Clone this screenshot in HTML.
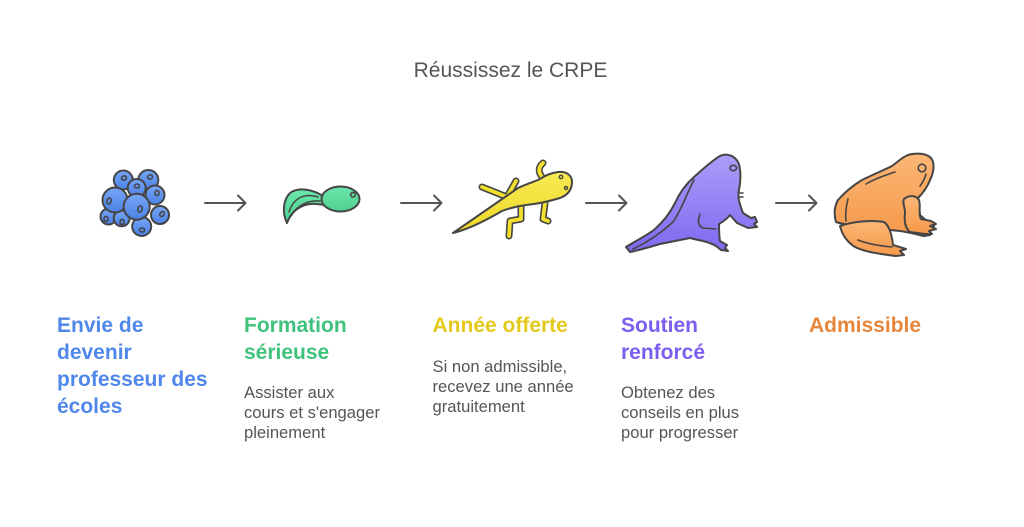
<!DOCTYPE html>
<html><head><meta charset="utf-8"><style>
html,body{margin:0;padding:0;background:#fff;}
svg{display:block;}
text{font-family:"Liberation Sans",Arial,sans-serif;}
.h{font-size:21px;font-weight:bold;}
.d{font-size:16.6px;fill:#555;}
</style></head><body>
<svg width="1024" height="527" viewBox="0 0 1024 527" xmlns="http://www.w3.org/2000/svg">
<defs>
<linearGradient id="gb" x1="0" y1="0" x2="0" y2="1"><stop offset="0" stop-color="#78a6f6"/><stop offset="1" stop-color="#4b82e8"/></linearGradient>
<linearGradient id="gg" x1="0" y1="0" x2="0" y2="1"><stop offset="0" stop-color="#6ae6aa"/><stop offset="1" stop-color="#4fd190"/></linearGradient>
<linearGradient id="gy" x1="0" y1="0" x2="0" y2="1"><stop offset="0" stop-color="#f8ea55"/><stop offset="1" stop-color="#efd824"/></linearGradient>
<linearGradient id="gp" x1="0" y1="0" x2="0" y2="1"><stop offset="0" stop-color="#ad9cf9"/><stop offset="1" stop-color="#8068f0"/></linearGradient>
<linearGradient id="go" x1="0" y1="0" x2="0" y2="1"><stop offset="0" stop-color="#fcb775"/><stop offset="1" stop-color="#f5994b"/></linearGradient>
</defs>

<!-- title -->
<text x="510.5" y="77" text-anchor="middle" font-size="21" fill="#555">Réussissez le CRPE</text>

<!-- arrows -->
<g stroke="#555" stroke-width="2" fill="none" stroke-linecap="round" stroke-linejoin="round">
<path d="M205,203 H245 M238,195.5 L245.5,203 L238,210.5"/>
<path d="M401,203 H441 M434,195.5 L441.5,203 L434,210.5"/>
<path d="M586,203 H626 M619,195.5 L626.5,203 L619,210.5"/>
<path d="M776,203 H816 M809,195.5 L816.5,203 L809,210.5"/>
</g>

<!-- blue eggs -->
<g stroke="#454545" stroke-width="2" fill="url(#gb)">
<circle cx="123.3" cy="180" r="9.5"/>
<circle cx="148.3" cy="180" r="10"/>
<circle cx="155" cy="195" r="9.5"/>
<circle cx="160" cy="215" r="9"/>
<circle cx="141.7" cy="226.5" r="9.5"/>
<circle cx="108.5" cy="216.5" r="8"/>
<circle cx="121.7" cy="218.3" r="8"/>
<circle cx="136.7" cy="188" r="9"/>
<circle cx="115" cy="200" r="12.5"/>
<circle cx="136.7" cy="206.7" r="13"/>
</g>
<g stroke="#454545" stroke-width="1.6" fill="none">
<ellipse cx="124" cy="178" rx="2.6" ry="2" transform="rotate(-20 124 178)"/>
<ellipse cx="150" cy="177" rx="2.6" ry="2" transform="rotate(-20 150 177)"/>
<ellipse cx="157" cy="193" rx="2" ry="2.6"/>
<ellipse cx="162" cy="214" rx="2" ry="2.6" transform="rotate(30 162 214)"/>
<ellipse cx="142" cy="230" rx="2.6" ry="2"/>
<ellipse cx="106" cy="219" rx="2" ry="2.6"/>
<ellipse cx="122" cy="222" rx="2" ry="2.6"/>
<ellipse cx="137" cy="186" rx="2.6" ry="2"/>
<ellipse cx="109" cy="201" rx="2.2" ry="3" transform="rotate(15 109 201)"/>
<ellipse cx="140" cy="209" rx="2.2" ry="3.2" transform="rotate(20 140 209)"/>
</g>

<!-- green tadpole -->
<g stroke="#454545" stroke-width="2" stroke-linejoin="round" stroke-linecap="round">
<path fill="url(#gg)" d="M323,196 C312,189 298,187 290,193 C283,200 282,213 287,223 C290,215 296,208 305,205 C312,203 318,204 324,205 Z"/>
<path fill="none" stroke-width="1.5" d="M318,197 C305,193 294,197 289,212 M320,201 C308,200 297,205 291,216"/>
<ellipse cx="340.5" cy="199" rx="19" ry="12.5" fill="url(#gg)"/>
<circle cx="353" cy="194.7" r="2.3" fill="none" stroke-width="1.6"/>
</g>

<!-- yellow tadpole with legs -->
<g fill="none" stroke-linecap="round" stroke-linejoin="round">
<g stroke="#454545" stroke-width="7">
<path d="M542,177 Q536,169 543,163"/>
<path d="M482,187 L507,197 L516,181"/>
<path d="M521,205 L521,219 L510,221 L509,236"/>
<path d="M545,203 L543,219 L548,221"/>
</g>
<g stroke="#f3df2e" stroke-width="3.8">
<path d="M542,177 Q536,169 543,163"/>
<path d="M482,187 L507,197 L516,181"/>
<path d="M521,205 L521,219 L510,221 L509,236"/>
<path d="M545,203 L543,219 L548,221"/>
</g>
</g>
<path fill="url(#gy)" stroke="#454545" stroke-width="2" stroke-linejoin="round" d="M572,183 C572.5,175 566,171 558,172 C550,173 545,176 538,180 C530,183 524,185 518,188 L453,233 C470,229 490,218 502,211 C510,208 518,206 526,205 C538,204 550,201 560,198 C568,195 571.5,190 572,183 Z"/>
<g stroke="#454545" stroke-width="1.4" fill="none">
<circle cx="561" cy="177" r="1.7"/>
<circle cx="566" cy="188" r="1.5"/>
</g>

<!-- purple frog -->
<path fill="url(#gp)" stroke="#454545" stroke-width="2" stroke-linejoin="round" d="M720,156 C726,153 734,155 738,162 C741,168 741,180 739,190 C737,197 740,205 743,213 L751,218 L755,217 L757,222 L754,224 L757,227 L748,228 L737,223 L730,215 C728,218 724,221 719,224 C719,230 719,236 720,241 L727,245 L725,248 L728,251 L721,250 L716,246 C711,243 707,242 703,241 C698,240 694,239 690,238 C680,240 670,242 660,244 C650,247 640,250 630,252 L626,247 C637,240 648,235 655,229 C663,222 670,213 675,203 C680,192 686,184 694,177 C702,170 710,162 720,156 Z"/>
<g stroke="#454545" fill="none" stroke-width="1.6" stroke-linecap="round">
<path d="M694,180 C686,195 681,211 673,222 C661,233 648,242 633,249"/>
<path d="M700,214 C698,220 697,225 703,228 L716,229"/>
<ellipse cx="733.3" cy="168" rx="3.3" ry="2.7"/>
<path d="M739,193 L743,193 M739,197 L743,197"/>
</g>

<!-- orange frog -->
<g stroke="#454545" stroke-width="2" stroke-linejoin="round" fill="url(#go)">
<path d="M931,158 C935,163 934,172 930,180 C927,188 922,194 918,198 L920,215 L928,222 L934,226 L932,230 L926,232 L930,235 L924,236 C915,234 908,232 900,231 C890,230 880,229 870,228 C855,226 845,225 836,222 C834,215 834,207 838,200 C845,192 852,186 862,180 C872,175 882,171 892,166 C900,160 905,155 912,154 C920,153 927,154 931,158 Z"/>
<path d="M840,226 C855,221 872,220 884,222 C890,226 892,236 893,245 L906,249 L900,251 L904,255 L896,256 C880,254 865,252 855,247 C847,242 842,234 840,226 Z"/>
<path d="M904,199 C909,195 916,195 919,200 C921,207 918,214 921,219 L931,221 L936,224 L930,226 L936,229 L929,231 L932,234 L925,234 L910,232 C905,228 904,221 905,213 C905,207 902,202 904,199 Z"/>
</g>
<g stroke="#454545" fill="none" stroke-width="1.6" stroke-linecap="round">
<circle cx="922" cy="168" r="3.8"/>
<path d="M848,199 C846,207 845,214 846,221"/>
<path d="M866,184 C876,178 886,175 895,172"/>
<path d="M920,186 C923,182 925,178 926,174"/>
<path d="M858,240 C868,244 880,246 892,247"/>
</g>

<!-- labels -->
<g class="h">
<text fill="#4f87ea"><tspan x="57" y="332">Envie de</tspan><tspan x="57" y="359">devenir</tspan><tspan x="57" y="386">professeur des</tspan><tspan x="57" y="413">écoles</tspan></text>
<text fill="#3fc27c"><tspan x="244" y="332">Formation</tspan><tspan x="244" y="359">sérieuse</tspan></text>
<text fill="#e4c81c"><tspan x="432.5" y="332">Année offerte</tspan></text>
<text fill="#7b5def"><tspan x="621" y="332">Soutien</tspan><tspan x="621" y="359">renforcé</tspan></text>
<text fill="#e6863b"><tspan x="809" y="332">Admissible</tspan></text>
</g>
<g class="d">
<text><tspan x="244" y="398">Assister aux</tspan><tspan x="244" y="418">cours et s'engager</tspan><tspan x="244" y="438">pleinement</tspan></text>
<text><tspan x="432.5" y="372">Si non admissible,</tspan><tspan x="432.5" y="392">recevez une année</tspan><tspan x="432.5" y="412">gratuitement</tspan></text>
<text><tspan x="621" y="398">Obtenez des</tspan><tspan x="621" y="418">conseils en plus</tspan><tspan x="621" y="438">pour progresser</tspan></text>
</g>
</svg>
</body></html>
